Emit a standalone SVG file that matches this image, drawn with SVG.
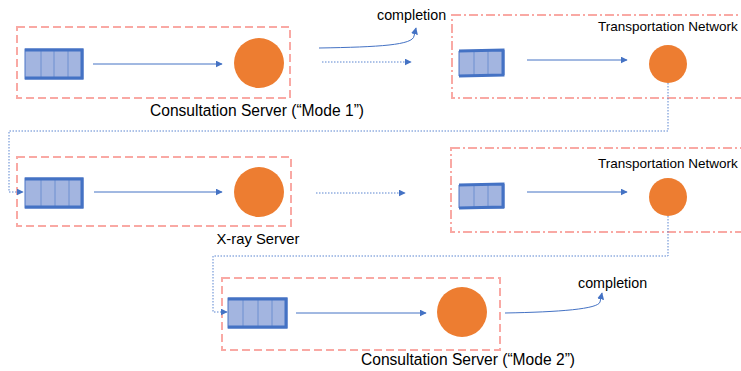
<svg xmlns="http://www.w3.org/2000/svg" width="741" height="371" viewBox="0 0 741 371">
<defs>
<marker id="ah" viewBox="0 0 10 10" refX="9" refY="5" markerWidth="7" markerHeight="7" markerUnits="userSpaceOnUse" orient="auto">
<path d="M0,0 L10,5 L0,10 z" fill="#4472c4"/>
</marker>
<style>
.srv{fill:none;stroke:#f9a9a4;stroke-width:2;stroke-dasharray:8 4}
.net{fill:none;stroke:#f9a9a4;stroke-width:2;stroke-dasharray:9 3 2 3}
.qf{fill:#a3b5e0;stroke:#4a74c6;stroke-width:1}
.qt{fill:none;stroke:#4472c4;stroke-width:3}
.qd{stroke:#6d8fd0;stroke-width:1}
.ball{fill:#ed7d31}
.ar{fill:none;stroke:#4472c4;stroke-width:1;marker-end:url(#ah)}
.dta{fill:none;stroke:#5b85d0;stroke-width:1;stroke-dasharray:1.5 1.5;marker-end:url(#ah)}
.lbl{font-family:"Liberation Sans",Arial,sans-serif;font-size:15.6px;fill:#000}
.xr{font-family:"Liberation Sans",Arial,sans-serif;font-size:14.8px;fill:#000}
.sm{font-family:"Liberation Sans",Arial,sans-serif;font-size:14.3px;fill:#000}
.tn{font-family:"Liberation Sans",Arial,sans-serif;font-size:13.5px;fill:#000}
</style>
</defs>
<rect width="741" height="371" fill="#fff"/>

<g id="consultation-mode1">
<rect class="srv" x="17" y="27" width="273" height="71"/>
<rect class="qf" x="25" y="49" width="58" height="30"/>
<line class="qd" x1="41" y1="49" x2="41" y2="79"/><line class="qd" x1="54" y1="49" x2="54" y2="79"/><line class="qd" x1="68" y1="49" x2="68" y2="79"/>
<path class="qt" d="M25,50 H82 V78 H25"/>
<circle class="ball" cx="259" cy="63" r="25"/>
<text class="lbl" x="257" y="116" text-anchor="middle">Consultation Server (“Mode 1”)</text>
</g>

<g id="transport-1">
<rect class="net" x="452" y="15" width="300" height="83"/>
<polygon class="qf" points="459,51 504,50 504,75 459,76"/>
<line class="qd" x1="474" y1="51" x2="474" y2="75"/><line class="qd" x1="488" y1="50" x2="488" y2="75"/>
<path class="qt" d="M459,51 L503,50 V75 L459,76"/>
<circle class="ball" cx="668" cy="64" r="19"/>
<text class="tn" x="598" y="31">Transportation Network</text>
</g>

<g id="xray-server">
<rect class="srv" x="17" y="157" width="274" height="69"/>
<rect class="qf" x="25" y="178" width="58" height="30"/>
<line class="qd" x1="41" y1="178" x2="41" y2="208"/><line class="qd" x1="55" y1="178" x2="55" y2="208"/><line class="qd" x1="69" y1="178" x2="69" y2="208"/>
<path class="qt" d="M25,179 H82 V207 H25"/>
<circle class="ball" cx="259" cy="192" r="25"/>
<text class="xr" x="258" y="244" text-anchor="middle">X-ray Server</text>
</g>

<g id="transport-2">
<rect class="net" x="451" y="148" width="300" height="84"/>
<polygon class="qf" points="459,185 504,184 504,208 459,208"/>
<line class="qd" x1="474" y1="185" x2="474" y2="208"/><line class="qd" x1="488" y1="184" x2="488" y2="208"/>
<path class="qt" d="M459,185 L503,184 V207 L459,208"/>
<circle class="ball" cx="668" cy="197" r="19"/>
<text class="tn" x="598" y="168">Transportation Network</text>
</g>

<g id="consultation-mode2">
<rect class="srv" x="222" y="278" width="278" height="72"/>
<rect class="qf" x="228" y="298" width="59" height="30"/>
<line class="qd" x1="243" y1="298" x2="243" y2="328"/><line class="qd" x1="258" y1="298" x2="258" y2="328"/><line class="qd" x1="272" y1="298" x2="272" y2="328"/>
<path class="qt" d="M228,299 H286 V327 H228"/>
<circle class="ball" cx="462" cy="312" r="25"/>
<text class="lbl" x="468" y="365" text-anchor="middle">Consultation Server (“Mode 2”)</text>
</g>

<g id="completion-labels">
<text class="sm" x="377" y="20">completion</text>
<text class="sm" x="578" y="288">completion</text>
</g>

<g id="connectors">
<line class="ar" x1="93" y1="64" x2="222" y2="64"/>
<path class="ar" d="M319,48 C380,47 413,45 414,36 L416,28"/>
<line class="dta" x1="322" y1="62" x2="411" y2="62"/>
<line class="ar" x1="527" y1="60" x2="627" y2="60"/>
<path class="dta" d="M668,83 V131 H9 V192 H23"/>
<line class="ar" x1="94" y1="192" x2="222" y2="192"/>
<line class="dta" x1="316" y1="193" x2="405" y2="193"/>
<line class="ar" x1="527" y1="192" x2="627" y2="192"/>
<path class="dta" d="M668,216 V256 H213 V312 H227"/>
<line class="ar" x1="296" y1="313" x2="426" y2="313"/>
<path class="ar" d="M505,313 C560,312 598,309 600,302 L602,293"/>
</g>
</svg>
